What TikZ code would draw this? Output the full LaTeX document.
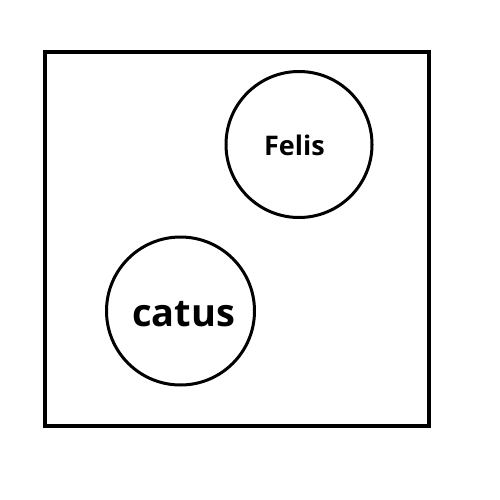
\documentclass[tikz,border=0pt]{standalone}
\usepackage{fontspec}
\setmainfont{Open Sans}
\begin{document}
\begin{tikzpicture}[x=1pt,y=-1pt,
  frame/.style={draw=black,line width=4pt},
  ring/.style={draw=black,line width=3pt,circle,minimum size=146pt,inner sep=0pt}]
\useasboundingbox (0,0) rectangle (500,500);
\node[frame,minimum width=383.5pt,minimum height=373.5pt,inner sep=0pt] (box) at (236.75,238.75) {};
\node[ring] (felis) at (299,144.5) {};
\node[ring,minimum size=148pt] (catus) at (180.5,311) {};
\node[font=\bfseries\fontsize{27}{30}\selectfont,inner sep=0pt] (tf) at ([xshift=-4.5pt,yshift=-1pt]felis) {Felis};
\node[font=\bfseries\fontsize{38}{42}\selectfont,inner sep=0pt] (tc) at ([xshift=3pt,yshift=-3pt]catus) {catus};
\end{tikzpicture}
\end{document}
